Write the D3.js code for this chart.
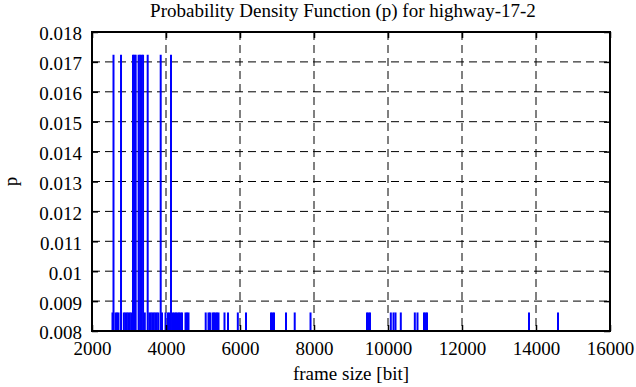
<!DOCTYPE html>
<html>
<head>
<meta charset="utf-8">
<script src="https://cdn.jsdelivr.net/npm/d3@7"></script>
<style>
  body { margin: 0; background: #fff; }
  svg text { font-family: "Liberation Serif", "Times New Roman", Times, serif; }
</style>
</head>
<body>
<div id="chart"></div>
<script>
// frame sizes seen twice (p = 2/116) and once (p = 1/116)
const tallSizes = [2581, 2784, 3108, 3145, 3180, 3260, 3300, 3340, 3380, 3505, 3857, 4135];
const shortSizes = [
  2554, 2635, 2676, 2716, 2860, 2900, 2941, 2981, 3022, 3062, 3427, 3549, 3589, 3630,
  3670, 3711, 3751, 3792, 3892, 3987, 4054, 4095, 4189, 4230, 4270, 4311, 4352, 4392,
  4432, 4527, 4568, 4608, 5073, 5149, 5189, 5257, 5297, 5338, 5378, 5419, 5581, 5676,
  5941, 6162, 6838, 6878, 6919, 7243, 7479, 7906, 9433, 9473, 9514, 10076, 10149,
  10203, 10346, 10725, 10797, 10973, 11014, 11054, 13811, 14595
];
const tallP = 0.01724;
const shortP = 0.00862;

const xTicks = [2000, 4000, 6000, 8000, 10000, 12000, 14000, 16000];
const yTicks = [0.008, 0.009, 0.01, 0.011, 0.012, 0.013, 0.014, 0.015, 0.016, 0.017, 0.018];

const title = "Probability Density Function (p) for highway-17-2";
const xLabel = "frame size [bit]";
const yLabel = "p";

const points = shortSizes.map((s) => ({ size: s, p: shortP }))
  .concat(tallSizes.map((s) => ({ size: s, p: tallP })));

const W = 636, H = 387;
const margin = { top: 32, right: 26, bottom: 56, left: 92 };
const width = W - margin.left - margin.right;
const height = H - margin.top - margin.bottom;
const serif = "'Liberation Serif', 'Times New Roman', Times, serif";
const fontSize = "19px";

const svg = d3.select("#chart").append("svg")
  .attr("width", W)
  .attr("height", H);

const g = svg.append("g")
  .attr("transform", `translate(${margin.left},${margin.top})`);

const x = d3.scaleLinear().domain([2000, 16000]).range([0, width]);
const y = d3.scaleLinear().domain([0.008, 0.018]).range([height, 0]);

// dashed grid
g.append("g")
  .selectAll("line")
  .data(xTicks.slice(1, -1))
  .enter()
  .append("line")
  .attr("x1", (d) => x(d)).attr("x2", (d) => x(d))
  .attr("y1", 0).attr("y2", height)
  .attr("stroke", "#000").attr("stroke-width", 1)
  .attr("stroke-dasharray", "8,5");

g.append("g")
  .selectAll("line")
  .data(yTicks.slice(1, -1))
  .enter()
  .append("line")
  .attr("x1", 0).attr("x2", width)
  .attr("y1", (d) => y(d)).attr("y2", (d) => y(d))
  .attr("stroke", "#000").attr("stroke-width", 1)
  .attr("stroke-dasharray", "8,5");

// impulses
g.append("g")
  .selectAll("line")
  .data(points)
  .enter()
  .append("line")
  .attr("x1", (d) => x(d.size)).attr("x2", (d) => x(d.size))
  .attr("y1", height).attr("y2", (d) => y(d.p))
  .attr("stroke", "#0000ff").attr("stroke-width", 2);

// axes, ticks inside on all sides
const tickLen = 6;
const styleAxis = (sel) => {
  sel.attr("font-family", null).attr("font-size", null);
  sel.select(".domain").remove();
  sel.selectAll(".tick line").attr("stroke", "#000").attr("stroke-width", 1.5);
  sel.selectAll(".tick text")
    .attr("fill", "#000")
    .style("font-size", fontSize)
    .style("font-family", serif);
};

g.append("g")
  .attr("transform", `translate(0,${height})`)
  .call(d3.axisBottom(x).tickValues(xTicks).tickSize(-tickLen).tickPadding(11).tickFormat(d3.format("d")))
  .call(styleAxis);

g.append("g")
  .call(d3.axisTop(x).tickValues(xTicks).tickSize(-tickLen).tickFormat(""))
  .call(styleAxis);

g.append("g")
  .call(d3.axisLeft(y).tickValues(yTicks).tickSize(-tickLen).tickPadding(10).tickFormat(d3.format("~g")))
  .call(styleAxis)
  .selectAll(".tick text").attr("dy", "0.42em");

g.append("g")
  .attr("transform", `translate(${width},0)`)
  .call(d3.axisRight(y).tickValues(yTicks).tickSize(-tickLen).tickFormat(""))
  .call(styleAxis);

// border
g.append("rect")
  .attr("width", width).attr("height", height)
  .attr("fill", "none").attr("stroke", "#000").attr("stroke-width", 2);

// title and labels
svg.append("text")
  .attr("x", 343)
  .attr("y", 17)
  .attr("text-anchor", "middle")
  .style("font-size", fontSize)
  .style("font-family", serif)
  .text(title);

svg.append("text")
  .attr("x", margin.left + width / 2)
  .attr("y", 380)
  .attr("text-anchor", "middle")
  .style("font-size", fontSize)
  .style("font-family", serif)
  .text(xLabel);

svg.append("text")
  .attr("transform", `translate(17,${margin.top + height / 2}) rotate(-90)`)
  .attr("text-anchor", "middle")
  .style("font-size", fontSize)
  .style("font-family", serif)
  .text(yLabel);
</script>
</body>
</html>
